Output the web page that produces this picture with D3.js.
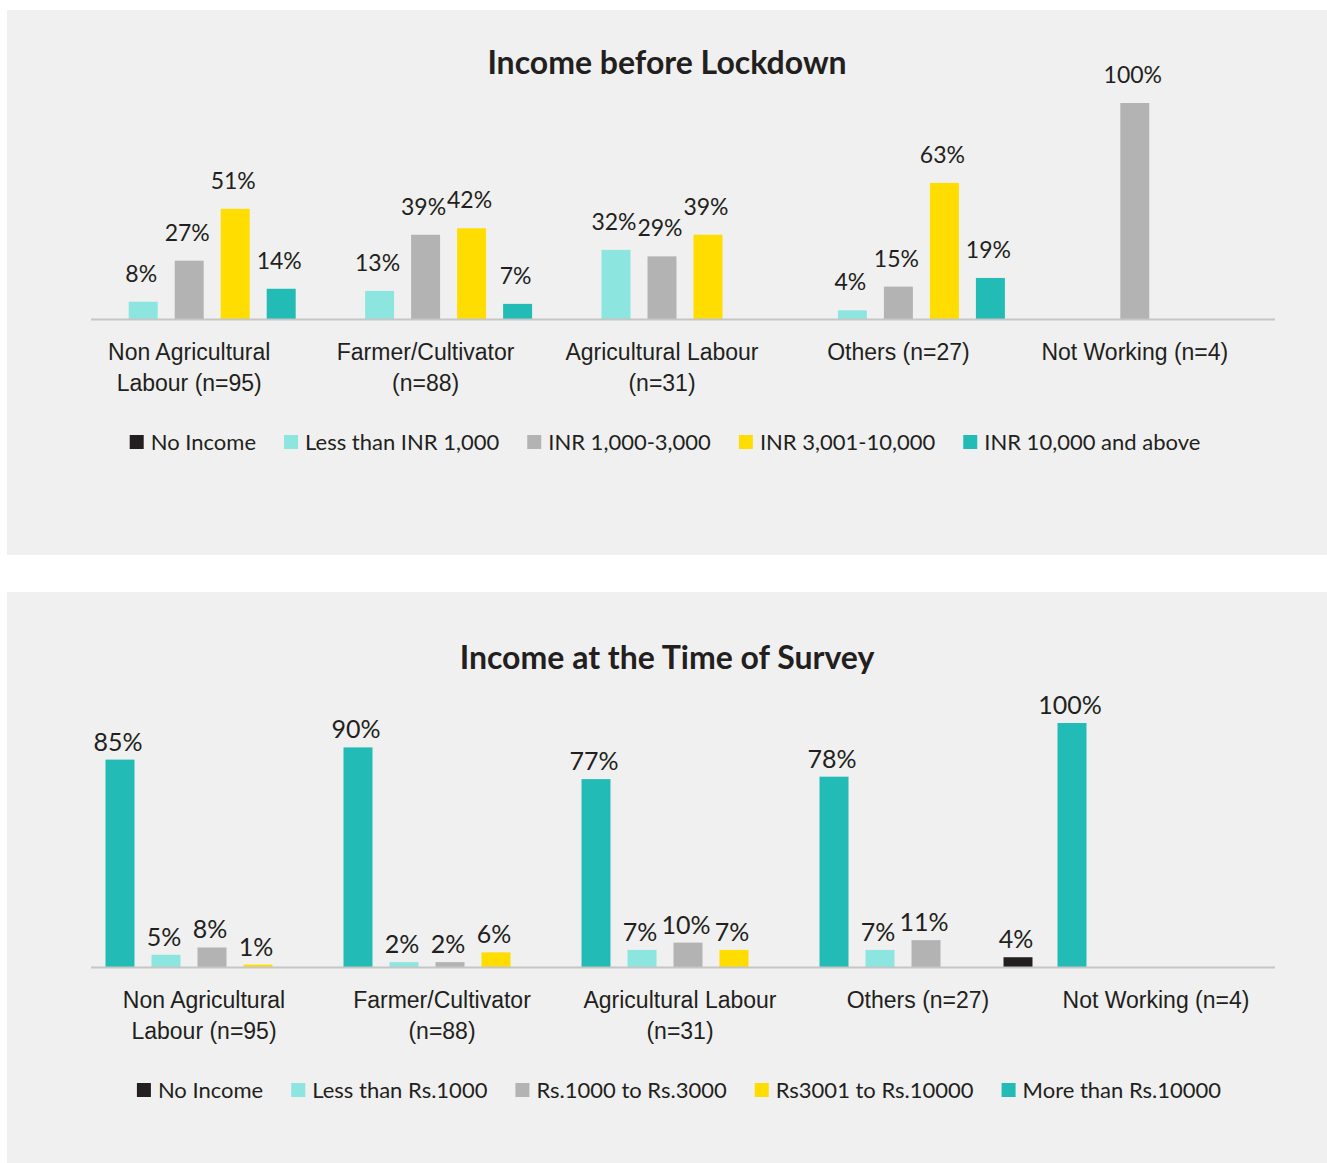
<!DOCTYPE html>
<html>
<head>
<meta charset="utf-8">
<script src="https://cdn.jsdelivr.net/npm/d3@7"></script>
<style>
  html, body { margin: 0; padding: 0; background: #ffffff; }
  svg { display: block; font-family: Lato, "Open Sans", sans-serif; }
</style>
</head>
<body>
<svg id="chart" width="1327" height="1163"></svg>
<script>
// categories (tick labels, split in lines)
var categories = ['Non Agricultural Labour', 'Farmer/Cultivator', 'Agricultural Labour', 'Others', 'Not Working']
var categoryLines = [
  ['Non Agricultural', 'Labour (n=95)'],
  ['Farmer/Cultivator', '(n=88)'],
  ['Agricultural Labour', '(n=31)'],
  ['Others (n=27)'],
  ['Not Working (n=4)']
]

// top chart: income before lockdown (%)
var beforeSeries = ['No Income', 'Less than INR 1,000', 'INR 1,000-3,000', 'INR 3,001-10,000', 'INR 10,000 and above']
var beforeNoIncome = [0, 0, 0, 0, 0]
var beforeLess1000 = [8, 13, 32, 4, 0]
var before1000to3000 = [27, 39, 29, 15, 100]
var before3001to10000 = [51, 42, 39, 63, 0]
var before10000plus = [14, 7, 0, 19, 0]

// bottom chart: income at the time of survey (%)
var surveySeries = ['No Income', 'Less than Rs.1000', 'Rs.1000 to Rs.3000', 'Rs3001 to Rs.10000', 'More than Rs.10000']
var surveyNoIncome = [0, 0, 0, 4, 0]
var surveyLess1000 = [5, 2, 7, 7, 0]
var survey1000to3000 = [8, 2, 10, 11, 0]
var survey3001to10000 = [1, 6, 7, 0, 0]
var surveyMore10000 = [85, 90, 77, 78, 100]

var colors = {
  noIncome: '#231f20',
  less: '#8de5df',
  low: '#b3b3b3',
  mid: '#ffdd00',
  high: '#23bbb5'
}
var textColor = '#231f20'

var svg = d3.select('#chart')

function drawPanel(opt) {
  var g = svg.append('g')

  // background
  g.append('rect')
    .attr('x', 7).attr('y', opt.top)
    .attr('width', 1320).attr('height', opt.height)
    .attr('fill', '#eff0ef')

  // title
  g.append('text')
    .attr('x', opt.titleX).attr('y', opt.titleY)
    .attr('text-anchor', 'middle')
    .attr('font-size', 32).attr('font-weight', 700)
    .attr('fill', textColor)
    .text(opt.title)

  var x0 = d3.scaleBand().domain(categories).range(opt.xRange)
  var groupWidth = 230
  var x1 = d3.scaleBand().domain(opt.slots.map(function(s) { return s.name }))
    .range([0, groupWidth]).paddingInner(0.37).paddingOuter(0.185)
  var y = d3.scaleLinear().domain([0, 100]).range([opt.baseY, opt.baseY - opt.fullHeight])

  // bars + value labels
  opt.slots.forEach(function(s) {
    var rows = categories.map(function(c, i) { return {cat: c, v: s.values[i]} })
      .filter(function(d) { return d.v > 0 })
    var xs = function(d) { return x0(d.cat) + (x0.bandwidth() - groupWidth) / 2 + x1(s.name) }
    g.selectAll(null).data(rows).enter().append('rect')
      .attr('x', xs)
      .attr('y', function(d) { return y(d.v) })
      .attr('width', x1.bandwidth())
      .attr('height', function(d) { return opt.baseY - y(d.v) })
      .attr('fill', s.color)
    g.selectAll(null).data(rows).enter().append('text')
      .attr('x', function(d) { return xs(d) + x1.bandwidth() / 2 - 2 })
      .attr('y', function(d) { return y(d.v) - opt.labelGap })
      .attr('text-anchor', 'middle')
      .attr('font-size', opt.valueSize)
      .attr('fill', textColor)
      .text(function(d) { return d.v + '%' })
  })

  // baseline
  g.append('line')
    .attr('x1', 91).attr('x2', 1275)
    .attr('y1', opt.baseY + 0.5).attr('y2', opt.baseY + 0.5)
    .attr('stroke', '#c6c6c6').attr('stroke-width', 2)

  // category axis
  var axis = g.append('g')
    .attr('transform', 'translate(' + opt.labelShift + ',' + opt.baseY + ')')
    .call(d3.axisBottom(x0).tickSize(0))
  axis.select('.domain').remove()
  axis.selectAll('.tick text').each(function(d, i) {
    var t = d3.select(this).text(null)
      .attr('y', 0).attr('dy', null)
      .attr('font-size', 23).attr('font-family', null)
      .attr('fill', textColor)
    categoryLines[i].forEach(function(line, k) {
      t.append('tspan').attr('x', 0).attr('y', opt.labelY + k * 31).text(line)
    })
  })

  // legend, centered
  var lg = g.append('g')
  var items = opt.legend
  var xPos = 0
  var pieces = []
  var gap = 28
  items.forEach(function(it) {
    var t = lg.append('text')
      .attr('y', opt.legendY)
      .attr('font-size', 22)
      .attr('fill', textColor)
      .text(it.name)
    var w = t.node().getComputedTextLength()
    pieces.push({text: t, x: xPos, color: it.color})
    xPos += 14 + 7 + w + gap
  })
  var total = xPos - gap
  var start = opt.legendCenter - total / 2
  pieces.forEach(function(p) {
    lg.append('rect')
      .attr('x', start + p.x).attr('y', opt.legendY - 15)
      .attr('width', 14).attr('height', 14)
      .attr('fill', p.color)
    p.text.attr('x', start + p.x + 21)
  })
}

drawPanel({
  top: 10, height: 545,
  title: 'Income before Lockdown', titleX: 667, titleY: 74,
  xRange: [71, 1253],
  baseY: 319, fullHeight: 216,
  labelGap: 20, valueSize: 23,
  labelShift: 0, labelY: 41,
  slots: [
    {name: beforeSeries[0], values: beforeNoIncome, color: colors.noIncome},
    {name: beforeSeries[1], values: beforeLess1000, color: colors.less},
    {name: beforeSeries[2], values: before1000to3000, color: colors.low},
    {name: beforeSeries[3], values: before3001to10000, color: colors.mid},
    {name: beforeSeries[4], values: before10000plus, color: colors.high}
  ],
  legend: [
    {name: beforeSeries[0], color: colors.noIncome},
    {name: beforeSeries[1], color: colors.less},
    {name: beforeSeries[2], color: colors.low},
    {name: beforeSeries[3], color: colors.mid},
    {name: beforeSeries[4], color: colors.high}
  ],
  legendY: 450, legendCenter: 665
})

drawPanel({
  top: 592, height: 571,
  title: 'Income at the Time of Survey', titleX: 667, titleY: 669,
  xRange: [93, 1283],
  baseY: 967, fullHeight: 244,
  labelGap: 9, valueSize: 25,
  labelShift: -8, labelY: 41,
  slots: [
    {name: surveySeries[4], values: surveyMore10000, color: colors.high},
    {name: surveySeries[1], values: surveyLess1000, color: colors.less},
    {name: surveySeries[2], values: survey1000to3000, color: colors.low},
    {name: surveySeries[3], values: survey3001to10000, color: colors.mid},
    {name: surveySeries[0], values: surveyNoIncome, color: colors.noIncome}
  ],
  legend: [
    {name: surveySeries[0], color: colors.noIncome},
    {name: surveySeries[1], color: colors.less},
    {name: surveySeries[2], color: colors.low},
    {name: surveySeries[3], color: colors.mid},
    {name: surveySeries[4], color: colors.high}
  ],
  legendY: 1098, legendCenter: 679
})
</script>
</body>
</html>
